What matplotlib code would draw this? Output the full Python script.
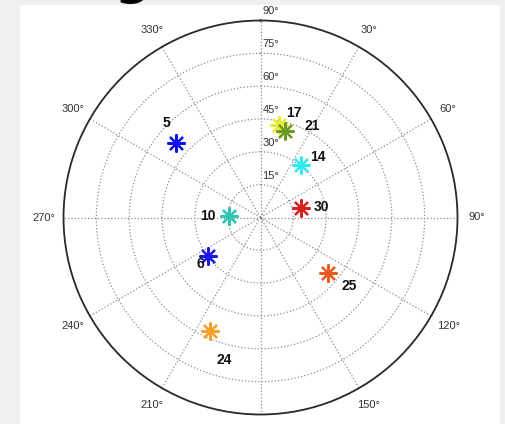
import numpy as np
import matplotlib
matplotlib.use('Agg')
import matplotlib.pyplot as plt
from matplotlib.patches import Rectangle

plt.rcParams['font.family'] = ['Liberation Sans', 'DejaVu Sans']

# satellite PRNs with azimuth (deg, clockwise from north) and radial value (deg)
prn = [5, 17, 21, 14, 30, 10, 6, 25, 24]
azimuth = [311.5, 11.5, 16.0, 37.9, 76.6, 272.3, 233.7, 129.4, 203.9]
elevation = [51.4, 42.9, 41.0, 30.3, 19.1, 14.5, 29.9, 39.8, 56.8]
colors = ['#1010f5', '#e8ec2c', '#6a9c22', '#30ecec', '#d81e1e',
          '#2ec4b6', '#1a1ae8', '#ec5a1e', '#f5a024']

ring_ticks = [15, 30, 45, 60, 75, 90]
# 0 and 180 labels fall off the figure, so only these are drawn
az_ticks = [30, 60, 90, 120, 150, 210, 240, 270, 300, 330]

# where each PRN label sits relative to its marker (pixels)
label_off = [(-10, 20), (15, 12), (27, 5), (17, 8), (20, 1),
             (-21, 0), (-7, -8), (21, -13), (14, -29)]

fig = plt.figure(figsize=(5.05, 4.24), dpi=100, facecolor='#f0f0f0')
fig.add_artist(Rectangle((20 / 505, 0), 480 / 505, 419 / 424,
                         transform=fig.transFigure, facecolor='white',
                         edgecolor='none', zorder=0))
fig.text(133 / 505, 1 - 4.5 / 424, 'g', fontsize=36, fontweight='bold',
         ha='center', va='bottom', family='DejaVu Sans')

ax = fig.add_axes([63.5 / 505, 9.5 / 424, 394 / 505, 394 / 424],
                  projection='polar')
ax.set_facecolor('none')
ax.set_theta_zero_location('N')
ax.set_theta_direction(-1)
ax.set_ylim(0, 90)
ax.set_rticks(ring_ticks)
ax.set_yticklabels([])
ax.set_xticks(np.radians(np.arange(0, 360, 30)))
ax.set_xticklabels([])
ax.grid(True, color='#8c8c8c', linestyle=':', linewidth=0.9)
ax.spines['polar'].set_color('#2a2a2a')
ax.spines['polar'].set_linewidth(1.3)

for a in az_ticks:
    ax.text(np.radians(a), 99, f'{a}°', ha='center', va='center',
            fontsize=8, color='#333333')

for r in ring_ticks:
    ax.annotate(f'{r}°', xy=(0, r), xytext=(2, 4), textcoords='offset pixels',
                ha='left', va='bottom', fontsize=8, color='#333333',
                annotation_clip=False)

for p, a, e, c, off in zip(prn, azimuth, elevation, colors, label_off):
    ax.plot(np.radians(a), e, linestyle='none', marker=(8, 2, 0),
            markersize=13, markeredgewidth=1.6, color=c, clip_on=False)
    ax.annotate(str(p), xy=(np.radians(a), e), xytext=off,
                textcoords='offset pixels', ha='center', va='center',
                fontsize=10, fontweight='bold', color='#111111')

fig.savefig('out.png', dpi=100, facecolor=fig.get_facecolor())
